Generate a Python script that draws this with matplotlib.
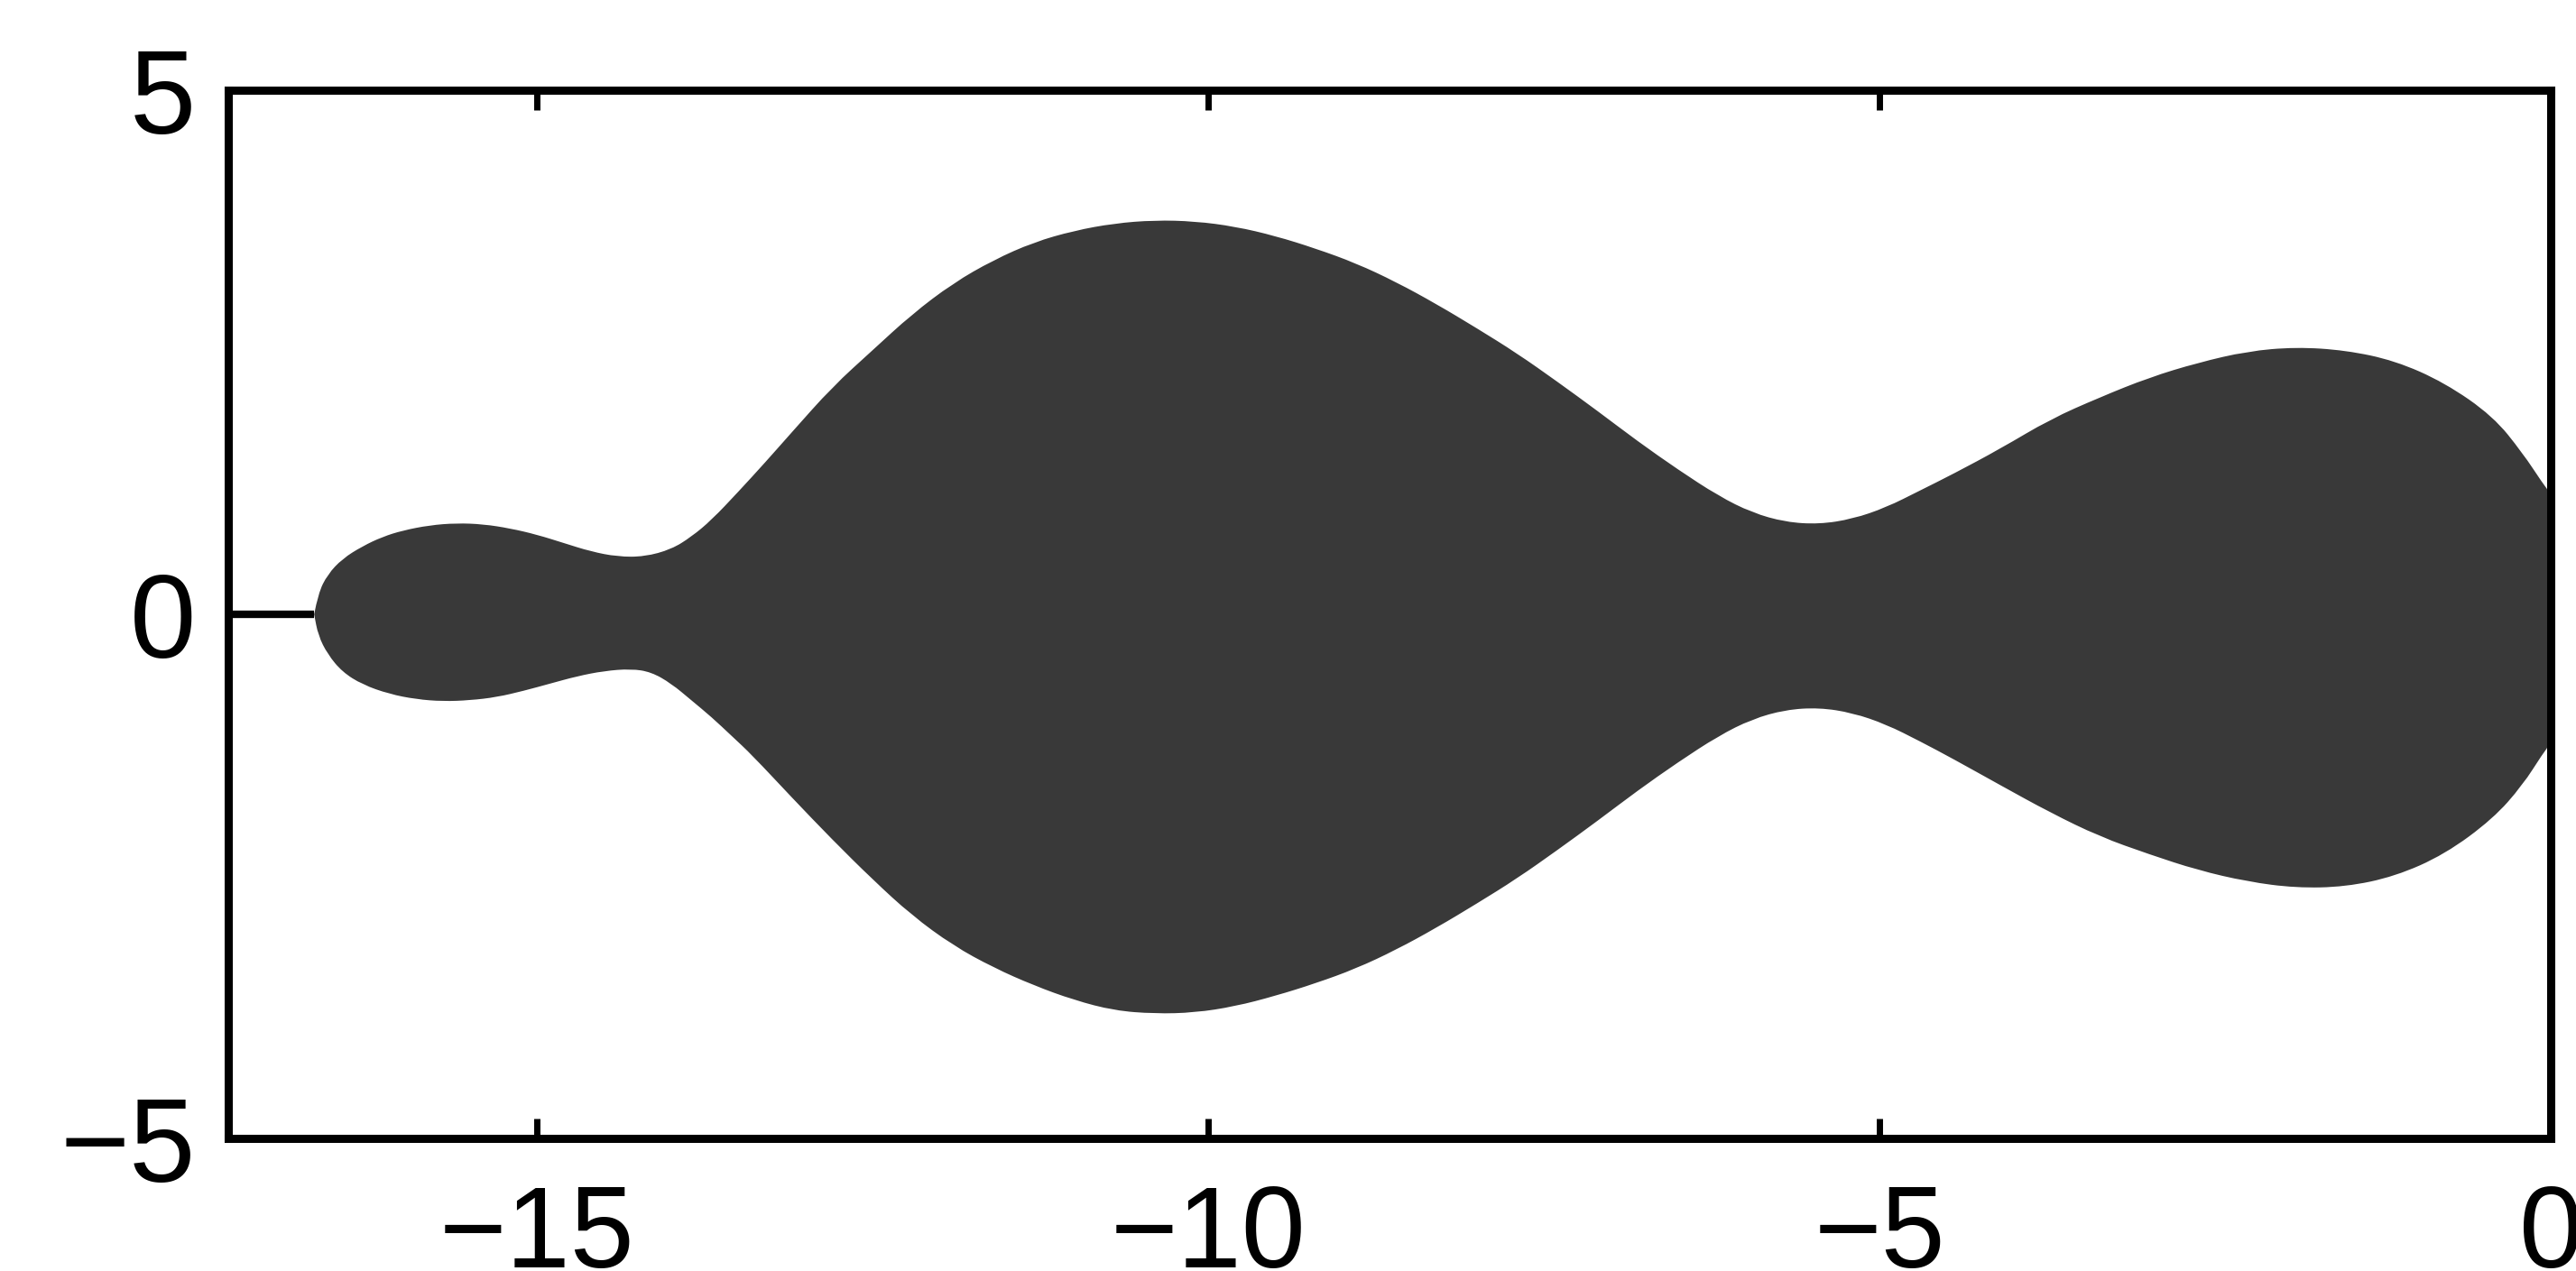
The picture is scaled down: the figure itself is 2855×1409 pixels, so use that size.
import matplotlib
matplotlib.use("Agg")
import matplotlib.pyplot as plt
from matplotlib.path import Path
from matplotlib.patches import PathPatch

plt.rcParams['font.family'] = ['Liberation Sans', 'DejaVu Sans']

# upper boundary of the region
upper_x = [-16.66, -16.63, -16.56, -16.45, -16.30, -16.15, -16.00, -15.80, -15.60, -15.40,
           -15.20, -15.00, -14.80, -14.60, -14.40, -14.20, -14.00, -13.85, -13.70, -13.50,
           -13.30, -13.10, -12.80, -12.50, -12.21, -11.90, -11.60, -11.30, -11.00, -10.70,
           -10.40, -10.10, -9.80, -9.50, -9.20, -8.90, -8.60, -8.30, -8.00, -7.70,
           -7.40, -7.10, -6.80, -6.50, -6.20, -5.95, -5.70, -5.45, -5.20, -4.95,
           -4.70, -4.45, -4.10, -3.73, -3.36, -2.99, -2.63, -2.26, -1.90, -1.53,
           -1.16, -0.79, -0.43, -0.21, -0.06, 0.00]
upper_y = [0.00, 0.20, 0.38, 0.53, 0.65, 0.74, 0.80, 0.85, 0.87, 0.86,
           0.82, 0.76, 0.68, 0.60, 0.55, 0.55, 0.62, 0.74, 0.90, 1.17,
           1.45, 1.74, 2.17, 2.52, 2.86, 3.16, 3.38, 3.55, 3.66, 3.73,
           3.76, 3.75, 3.70, 3.61, 3.49, 3.35, 3.17, 2.96, 2.73, 2.49,
           2.22, 1.94, 1.65, 1.38, 1.13, 0.97, 0.88, 0.86, 0.91, 1.02,
           1.18, 1.34, 1.58, 1.86, 2.07, 2.26, 2.40, 2.51, 2.55, 2.52,
           2.42, 2.21, 1.89, 1.54, 1.25, 1.15]

# lower boundary, left to right
lower_x = [-16.66, -16.63, -16.56, -16.45, -16.30, -16.10, -15.90, -15.70, -15.50, -15.30,
           -15.10, -14.90, -14.70, -14.50, -14.30, -14.15, -14.00, -13.85, -13.70, -13.55,
           -13.40, -13.10, -12.80, -12.50, -12.21, -11.90, -11.60, -11.30, -11.00, -10.70,
           -10.40, -10.10, -9.80, -9.50, -9.20, -8.90, -8.60, -8.30, -8.00, -7.70,
           -7.40, -7.10, -6.80, -6.50, -6.20, -5.95, -5.70, -5.45, -5.20, -4.95,
           -4.70, -4.45, -4.10, -3.73, -3.36, -2.99, -2.63, -2.26, -1.90, -1.53,
           -1.16, -0.79, -0.43, -0.21, -0.06, 0.00]
lower_y = [0.00, -0.20, -0.38, -0.55, -0.67, -0.76, -0.81, -0.83, -0.82, -0.79,
           -0.73, -0.66, -0.59, -0.54, -0.52, -0.55, -0.66, -0.82, -0.98, -1.16,
           -1.34, -1.75, -2.15, -2.53, -2.87, -3.16, -3.37, -3.54, -3.68, -3.78,
           -3.81, -3.80, -3.74, -3.64, -3.52, -3.38, -3.20, -2.99, -2.76, -2.52,
           -2.25, -1.97, -1.68, -1.41, -1.16, -1.00, -0.91, -0.89, -0.94, -1.05,
           -1.21, -1.38, -1.63, -1.89, -2.12, -2.29, -2.44, -2.55, -2.61, -2.60,
           -2.50, -2.29, -1.95, -1.63, -1.33, -1.23]

# stable piece of the real axis left of the region
segment_x = [-17.3, -16.66]
segment_y = [0.0, 0.0]

x_ticks = [-15, -10, -5, 0]
y_ticks = [-5, 0, 5]


def smooth_outline(xs, ys):
    # quadratic curves through the midpoints, corners at the points
    pts = list(zip(xs, ys))
    verts = [pts[0]]
    codes = [Path.MOVETO]
    for i in range(1, len(pts) - 1):
        mid = ((pts[i][0] + pts[i + 1][0]) / 2, (pts[i][1] + pts[i + 1][1]) / 2)
        verts += [pts[i], mid]
        codes += [Path.CURVE3, Path.CURVE3]
    verts.append(pts[-1])
    codes.append(Path.LINETO)
    verts.append(pts[0])
    codes.append(Path.CLOSEPOLY)
    return Path(verts, codes)


fig = plt.figure(figsize=(28.55, 14.09), dpi=100)
ax = fig.add_axes([0.0886, 0.1043, 0.9016, 0.8247])

poly_x = upper_x + lower_x[::-1]
poly_y = upper_y + lower_y[::-1]
ax.add_patch(PathPatch(smooth_outline(poly_x, poly_y), facecolor='#393939', lw=0))
ax.plot(segment_x, segment_y, color='black', lw=6, solid_capstyle='butt')

ax.set_xlim(-17.3, 0)
ax.set_ylim(-5, 5)
ax.set_xticks(x_ticks)
ax.set_yticks(y_ticks)
ax.set_xticklabels([str(t).replace('-', '\u2212') for t in x_ticks])
ax.set_yticklabels([str(t).replace('-', '\u2212') for t in y_ticks])

for s in ax.spines.values():
    s.set_linewidth(6.5)
ax.tick_params(axis='x', direction='in', top=True, length=16, width=5,
               labelsize=92, pad=36)
ax.tick_params(axis='y', direction='in', length=0, labelsize=95, pad=26)

fig.savefig('out.png', dpi=100)
